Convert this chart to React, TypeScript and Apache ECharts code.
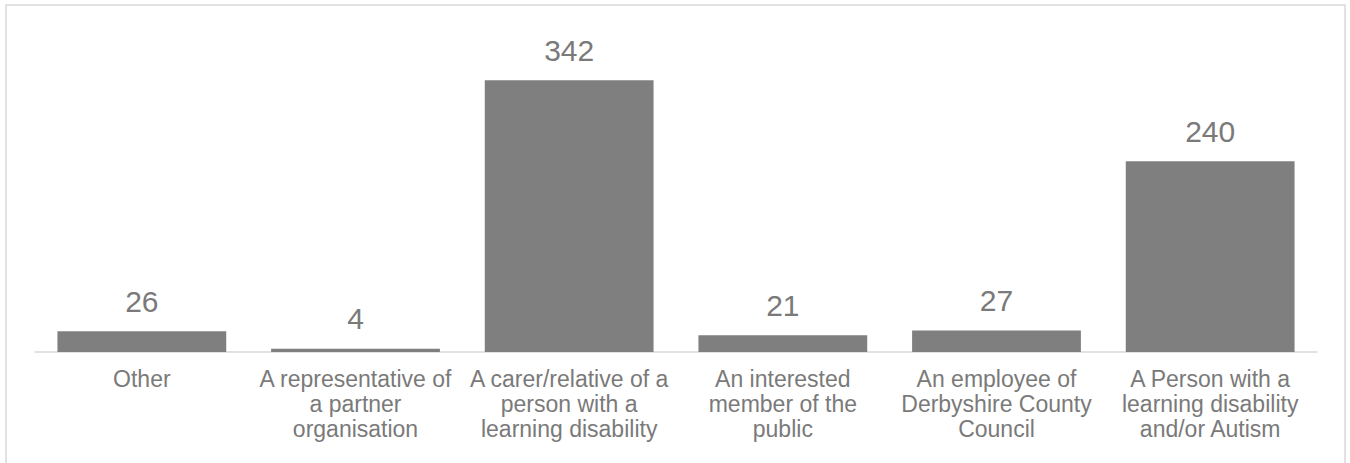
import React, { useEffect, useRef } from "react";
import * as echarts from "echarts";

const categories = [
  "Other",
  "A representative of\na partner\norganisation",
  "A carer/relative of a\nperson with a\nlearning disability",
  "An interested\nmember of the\npublic",
  "An employee of\nDerbyshire County\nCouncil",
  "A Person with a\nlearning disability\nand/or Autism",
];
const values = [26, 4, 342, 21, 27, 240];

export default function App() {
  const ref = useRef<HTMLDivElement>(null);
  useEffect(() => {
    if (!ref.current) return;
    const chart = echarts.init(ref.current, null, { renderer: "svg" });
    chart.setOption({
      animation: false,
      backgroundColor: "#ffffff",
      graphic: [
        {
          type: "rect",
          shape: { x: 6, y: 5, width: 1339, height: 470 },
          style: { fill: "none", stroke: "#d9d9d9", lineWidth: 1.5 },
          silent: true,
        },
      ],
      grid: { left: 35, right: 33, top: 74, bottom: 111, containLabel: false },
      xAxis: {
        type: "category",
        data: categories,
        axisLine: { show: true, lineStyle: { color: "#d9d9d9", width: 1.5 } },
        axisTick: { show: false },
        axisLabel: {
          interval: 0,
          color: "#7a7a7a",
          fontSize: 23,
          lineHeight: 25,
          margin: 14,
          fontFamily: "Liberation Sans, Arial, sans-serif",
        },
      },
      yAxis: {
        type: "value",
        min: 0,
        max: 350,
        show: false,
        splitLine: { show: false },
      },
      series: [
        {
          type: "bar",
          data: values,
          barCategoryGap: "21%",
          itemStyle: { color: "#7f7f7f" },
          label: {
            show: true,
            position: "top",
            distance: 15,
            color: "#7a7a7a",
            fontSize: 30,
            fontFamily: "Liberation Sans, Arial, sans-serif",
          },
        },
      ],
    });
    return () => chart.dispose();
  }, []);
  return (
    <div
      ref={ref}
      style={{ position: "fixed", left: 0, top: 0, width: 1350, height: 463 }}
    />
  );
}
